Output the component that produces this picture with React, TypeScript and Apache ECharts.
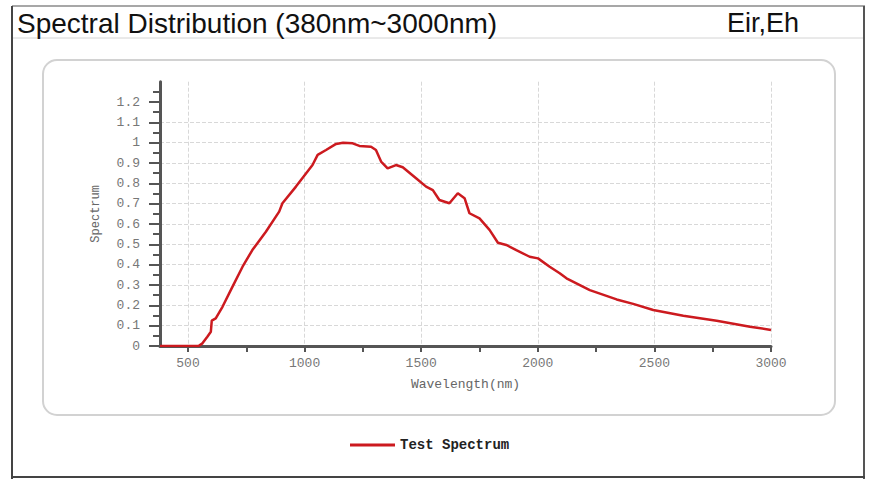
import React, { useEffect, useRef } from "react";
import * as echarts from "echarts";

const titleText = "Spectral Distribution (380nm~3000nm)";
const unitText = "Eir,Eh";
const seriesName = "Test Spectrum";
const xName = "Wavelength(nm)";
const yName = "Spectrum";

const wavelengths = [
  380, 545, 562, 583, 598, 602, 619, 648, 691, 734, 776, 834, 891, 905, 963,
  1034, 1056, 1092, 1135, 1165, 1206, 1235, 1285, 1306, 1328, 1356, 1392, 1421,
  1478, 1521, 1550, 1578, 1621, 1657, 1686, 1707, 1750, 1793, 1829, 1865, 1908,
  1965, 2001, 2051, 2094, 2123, 2223, 2338, 2409, 2495, 2624, 2767, 2910, 3000,
];
const spectrum = [
  0, 0, 0.013, 0.046, 0.07, 0.125, 0.136, 0.193, 0.292, 0.39, 0.472, 0.562,
  0.661, 0.702, 0.784, 0.89, 0.94, 0.964, 0.994, 1.0, 0.997, 0.984, 0.98, 0.964,
  0.907, 0.874, 0.89, 0.879, 0.825, 0.784, 0.767, 0.718, 0.702, 0.751, 0.727,
  0.653, 0.628, 0.571, 0.508, 0.497, 0.472, 0.439, 0.431, 0.39, 0.358, 0.333,
  0.275, 0.229, 0.207, 0.177, 0.149, 0.124, 0.095, 0.079,
];
const xTickValues = [500, 750, 1000, 1250, 1500, 1750, 2000, 2250, 2500, 2750, 3000];
const xLabelValues = [500, 1000, 1500, 2000, 2500, 3000];
const yTickValues = [0, 0.1, 0.2, 0.3, 0.4, 0.5, 0.6, 0.7, 0.8, 0.9, 1, 1.1, 1.2];

export default function App() {
  const ref = useRef<HTMLDivElement>(null);
  useEffect(() => {
    if (!ref.current) return;
    const chart = echarts.init(ref.current, undefined, { renderer: "svg" });
    const mono = "Liberation Mono";
    chart.setOption({
      animation: false,
      backgroundColor: "#ffffff",
      graphic: [
        { type: "line", shape: { x1: 12, y1: 6, x2: 865, y2: 6 }, style: { stroke: "#8a8a8a", lineWidth: 1.5 } },
        { type: "line", shape: { x1: 12, y1: 38, x2: 864, y2: 38 }, style: { stroke: "#d4d4d4", lineWidth: 1 } },
        { type: "line", shape: { x1: 12, y1: 6, x2: 12, y2: 479 }, style: { stroke: "#444", lineWidth: 2 } },
        { type: "line", shape: { x1: 864, y1: 6, x2: 864, y2: 479 }, style: { stroke: "#555", lineWidth: 2 } },
        { type: "line", shape: { x1: 12, y1: 477, x2: 865, y2: 477 }, style: { stroke: "#444", lineWidth: 2 } },
        {
          type: "rect",
          shape: { x: 43, y: 60, width: 792, height: 355, r: 14 },
          style: { fill: "#ffffff", stroke: "#d2d2d2", lineWidth: 2 },
          z: -1,
        },
        {
          type: "text",
          x: 17,
          y: 23,
          style: { text: titleText, fontFamily: "Liberation Sans", fontSize: 28, fill: "#111", verticalAlign: "middle" },
        },
        {
          type: "text",
          x: 727,
          y: 23,
          style: { text: unitText, fontFamily: "Liberation Sans", fontSize: 27, fill: "#111", verticalAlign: "middle" },
        },
      ],
      grid: { left: 160, right: 106, top: 81.7, bottom: 147, containLabel: false },
      legend: {
        left: 345,
        top: 433,
        icon: "rect",
        itemWidth: 45,
        itemHeight: 3,
        itemGap: 10,
        textStyle: { fontFamily: mono, fontSize: 14, fontWeight: "bold", color: "#222" },
        data: [seriesName],
      },
      xAxis: [
        {
          type: "value",
          position: "bottom",
          min: 380,
          max: 3000,
          splitNumber: 5,
          name: xName,
          nameLocation: "middle",
          nameGap: 32,
          nameTextStyle: { fontFamily: mono, fontSize: 13, color: "#666" },
          axisLine: { show: true, lineStyle: { color: "#555", width: 3 } },
          axisTick: { show: false },
          axisLabel: {
            customValues: xLabelValues,
            margin: 11,
            fontFamily: mono,
            fontSize: 13,
            color: "#777",
            formatter: (v: number) => String(v),
          },
          splitLine: { show: true, showMinLine: false, lineStyle: { type: "dashed", color: "#d8d8d8", width: 1 } },
        },
        {
          type: "value",
          position: "bottom",
          offset: 0,
          min: 380,
          max: 3000,
          axisLine: { show: false },
          axisTick: { show: true, customValues: xTickValues, length: 6, lineStyle: { color: "#555", width: 2 } },
          axisLabel: { show: false },
          splitLine: { show: false },
        },
      ],
      yAxis: {
        type: "value",
        min: 0,
        max: 1.3,
        interval: 0.1,
        name: yName,
        nameLocation: "middle",
        nameRotate: 90,
        nameGap: 58,
        nameTextStyle: { fontFamily: mono, fontSize: 12, color: "#666" },
        axisLine: { show: true, lineStyle: { color: "#555", width: 3 } },
        axisTick: { show: true, customValues: yTickValues, length: 11, lineStyle: { color: "#555", width: 2 } },
        minorTick: { show: true, splitNumber: 2, length: 7, lineStyle: { color: "#555", width: 2 } },
        axisLabel: { showMaxLabel: false, margin: 20, fontFamily: mono, fontSize: 13, color: "#777" },
        splitLine: { show: true, showMinLine: false, showMaxLine: false, lineStyle: { type: "dashed", color: "#d8d8d8", width: 1 } },
      },
      series: [
        {
          name: seriesName,
          type: "line",
          xAxisIndex: 0,
          data: wavelengths.map((w, i) => [w, spectrum[i]]),
          showSymbol: false,
          symbol: "none",
          lineStyle: { color: "#cc1a1f", width: 2.5 },
          itemStyle: { color: "#cc1a1f" },
        },
      ],
    });
    return () => chart.dispose();
  }, []);
  return <div ref={ref} style={{ position: "fixed", left: 0, top: 0, width: 877, height: 493 }} />;
}
